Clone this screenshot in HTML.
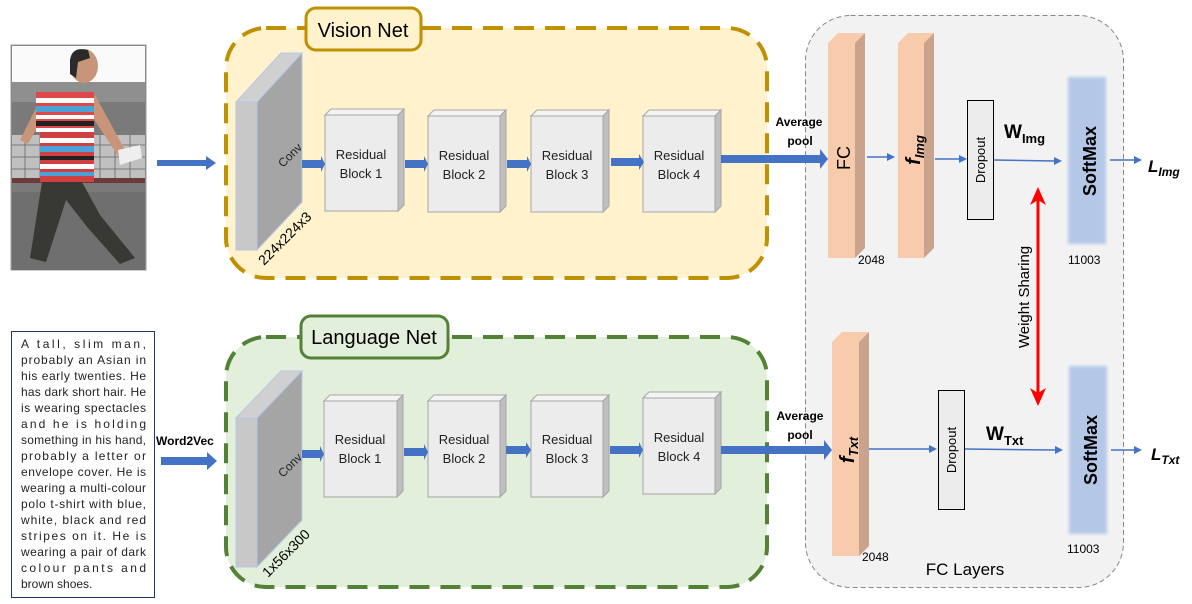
<!DOCTYPE html>
<html><head><meta charset="utf-8"><style>
html,body{margin:0;padding:0;background:#fff}
svg{display:block}
text{font-family:"Liberation Sans",sans-serif}
</style></head><body>
<svg width="1192" height="604" viewBox="0 0 1192 604" xmlns="http://www.w3.org/2000/svg">
<defs>
<filter id="blur"><feGaussianBlur stdDeviation="1.5"/></filter>
</defs>
<rect x="805.5" y="15.5" width="318" height="572" rx="45" fill="#f2f2f2" stroke="#888" stroke-dasharray="5,3"/>
<rect x="226" y="28" width="541" height="250" rx="40" fill="#fff2cc" stroke="#bf9000" stroke-width="4" stroke-dasharray="20,11"/>
<rect x="306" y="8" width="115" height="42" rx="10" fill="#fff2cc" stroke="#bf9000" stroke-width="3"/>
<text x="363" y="37" font-size="20" text-anchor="middle" fill="#000">Vision Net</text>
<rect x="226" y="337" width="541" height="250" rx="40" fill="#e2efda" stroke="#538135" stroke-width="4" stroke-dasharray="20,11"/>
<rect x="301" y="316" width="147" height="42" rx="10" fill="#e2efda" stroke="#538135" stroke-width="3"/>
<text x="374" y="344" font-size="20" text-anchor="middle" fill="#000">Language Net</text>

<!-- Photo -->
<g>
<rect x="11" y="45" width="135" height="225" fill="#7a7a7a" stroke="#999"/>
<rect x="12" y="46" width="133" height="36" fill="#fafafa"/>
<rect x="12" y="82" width="133" height="20" fill="#8f8f8f"/>
<rect x="12" y="135" width="133" height="45" fill="#c0c0c0"/>
<g stroke="#777" stroke-width="1">
<line x1="12" y1="145" x2="145" y2="145"/><line x1="12" y1="157" x2="145" y2="157"/><line x1="12" y1="169" x2="145" y2="169"/>
<line x1="25" y1="135" x2="25" y2="180"/><line x1="40" y1="135" x2="40" y2="180"/><line x1="100" y1="135" x2="100" y2="180"/><line x1="115" y1="135" x2="115" y2="180"/><line x1="130" y1="135" x2="130" y2="180"/>
</g>
<rect x="12" y="178" width="133" height="5" fill="#6b3a3a"/>
<rect x="12" y="192" width="133" height="78" fill="#6f6f6f"/>
<path d="M30 258 L42 182 L82 182 L100 215 L135 258 L120 264 L88 228 L66 200 L46 262 Z" fill="#383834"/>
<path d="M95 95 L125 150 L118 156 L88 110 Z" fill="#c9957a"/>
<path d="M40 100 L20 140 L28 144 L46 112 Z" fill="#c9957a"/>
<rect x="36" y="92" width="58" height="40" fill="#e04848"/>
<rect x="36" y="98" width="58" height="5" fill="#fff"/>
<rect x="36" y="106" width="58" height="6" fill="#4aa3d8"/>
<rect x="36" y="115" width="58" height="4" fill="#fff"/>
<rect x="36" y="121" width="58" height="5" fill="#222"/>
<rect x="36" y="128" width="58" height="4" fill="#fff"/>
<rect x="40" y="132" width="54" height="50" fill="#d04040"/>
<rect x="40" y="138" width="54" height="5" fill="#fff"/>
<rect x="40" y="146" width="54" height="6" fill="#4aa3d8"/>
<rect x="40" y="156" width="54" height="4" fill="#222"/>
<rect x="40" y="164" width="54" height="5" fill="#fff"/>
<rect x="40" y="172" width="54" height="4" fill="#4aa3d8"/>
<ellipse cx="84" cy="66" rx="14" ry="17" fill="#c9957a"/>
<path d="M70 60 Q72 46 88 50 L90 58 L78 62 L76 78 L70 74 Z" fill="#2a2a2a"/>
<path d="M118 150 L140 145 L142 158 L120 165 Z" fill="#eee"/>
</g>
<path d="M157 160 H206 V156 L216 163 L206 170 V166 H157 Z" fill="#4472c4"/>

<!-- Text box -->
<rect x="11.5" y="331.5" width="143" height="266" fill="#fff" stroke="#1f3864"/>
<g font-size="12" fill="#222">
<text x="21" y="348" textLength="125" lengthAdjust="spacing">A tall, slim man,</text>
<text x="21" y="364" textLength="125" lengthAdjust="spacing">probably an Asian in</text>
<text x="21" y="380" textLength="125" lengthAdjust="spacing">his early twenties. He</text>
<text x="21" y="396" textLength="125" lengthAdjust="spacing">has dark short hair. He</text>
<text x="21" y="412" textLength="125" lengthAdjust="spacing">is wearing spectacles</text>
<text x="21" y="428" textLength="125" lengthAdjust="spacing">and he is holding</text>
<text x="21" y="444" textLength="125" lengthAdjust="spacing">something in his hand,</text>
<text x="21" y="460" textLength="125" lengthAdjust="spacing">probably a letter or</text>
<text x="21" y="476" textLength="125" lengthAdjust="spacing">envelope cover. He is</text>
<text x="21" y="492" textLength="125" lengthAdjust="spacing">wearing a multi-colour</text>
<text x="21" y="508" textLength="125" lengthAdjust="spacing">polo t-shirt with blue,</text>
<text x="21" y="524" textLength="125" lengthAdjust="spacing">white, black and red</text>
<text x="21" y="540" textLength="125" lengthAdjust="spacing">stripes on it. He is</text>
<text x="21" y="556" textLength="125" lengthAdjust="spacing">wearing a pair of dark</text>
<text x="21" y="572" textLength="125" lengthAdjust="spacing">colour pants and</text>
<text x="21" y="588">brown shoes.</text>
</g>
<text x="156" y="445" font-size="12" font-weight="bold" fill="#000">Word2Vec</text>
<path d="M161 457 H207 V452 L217 461 L207 470 V465 H161 Z" fill="#4472c4"/>

<polygon points="236,102 281,53 302,53 257,102" fill="#d0d0d0" stroke="#b4c7e7"/>
<polygon points="257,102 302,53 302,202 257,250" fill="#a5a5a5" stroke="#b4c7e7"/>
<rect x="236" y="102" width="21" height="148" fill="#c8c8c8" stroke="#b4c7e7"/>
<text transform="translate(283,168) rotate(-45)" font-size="12" fill="#222">Conv</text>
<text transform="translate(264,266) rotate(-45)" font-size="14" fill="#000">224x224x3</text>

<polygon points="236,418 281,371 302,371 257,418" fill="#d0d0d0" stroke="#b4c7e7"/>
<polygon points="257,418 302,371 302,520 257,567" fill="#a5a5a5" stroke="#b4c7e7"/>
<rect x="236" y="418" width="21" height="149" fill="#c8c8c8" stroke="#b4c7e7"/>
<text transform="translate(283,478) rotate(-45)" font-size="12" fill="#222">Conv</text>
<text transform="translate(268,578) rotate(-45)" font-size="14" fill="#000">1x56x300</text>

<g stroke="#a6a6a6">
<polygon points="325,115 331,109 404,109 398,115" fill="#f4f4f4"/>
<polygon points="398,115 404,109 404,205 398,211" fill="#bfbfbf"/>
<rect x="325" y="115" width="73" height="96" fill="#ececec"/>
<polygon points="428,116 434,110 506,110 500,116" fill="#f4f4f4"/>
<polygon points="500,116 506,110 506,206 500,212" fill="#bfbfbf"/>
<rect x="428" y="116" width="72" height="96" fill="#ececec"/>
<polygon points="531,116 537,110 609,110 603,116" fill="#f4f4f4"/>
<polygon points="603,116 609,110 609,206 603,212" fill="#bfbfbf"/>
<rect x="531" y="116" width="72" height="96" fill="#ececec"/>
<polygon points="643,116 649,110 721,110 715,116" fill="#f4f4f4"/>
<polygon points="715,116 721,110 721,206 715,212" fill="#bfbfbf"/>
<rect x="643" y="116" width="72" height="96" fill="#ececec"/>
<polygon points="324,401 330,395 403,395 397,401" fill="#f4f4f4"/>
<polygon points="397,401 403,395 403,491 397,497" fill="#bfbfbf"/>
<rect x="324" y="401" width="73" height="96" fill="#ececec"/>
<polygon points="428,401 434,395 506,395 500,401" fill="#f4f4f4"/>
<polygon points="500,401 506,395 506,491 500,497" fill="#bfbfbf"/>
<rect x="428" y="401" width="72" height="96" fill="#ececec"/>
<polygon points="531,401 537,395 609,395 603,401" fill="#f4f4f4"/>
<polygon points="603,401 609,395 609,491 603,497" fill="#bfbfbf"/>
<rect x="531" y="401" width="72" height="96" fill="#ececec"/>
<polygon points="643,398 649,392 721,392 715,398" fill="#f4f4f4"/>
<polygon points="715,398 721,392 721,488 715,494" fill="#bfbfbf"/>
<rect x="643" y="398" width="72" height="96" fill="#ececec"/>
</g>
<g font-size="13" text-anchor="middle" fill="#222">
<text x="361" y="159">Residual</text><text x="361" y="178">Block 1</text>
<text x="464" y="160">Residual</text><text x="464" y="179">Block 2</text>
<text x="567" y="160">Residual</text><text x="567" y="179">Block 3</text>
<text x="679" y="160">Residual</text><text x="679" y="179">Block 4</text>
<text x="360" y="444">Residual</text><text x="360" y="463">Block 1</text>
<text x="464" y="444">Residual</text><text x="464" y="463">Block 2</text>
<text x="567" y="444">Residual</text><text x="567" y="463">Block 3</text>
<text x="679" y="442">Residual</text><text x="679" y="461">Block 4</text>
</g>
<g fill="#4472c4">
<path d="M302 160 H321 V156 L325 164 L321 172 V168 H302 Z"/>
<path d="M405 160 H424 V156 L428 164 L424 172 V168 H405 Z"/>
<path d="M507 160 H527 V156 L531 164 L527 172 V168 H507 Z"/>
<path d="M611 158 H639 V154 L644 162 L639 170 V166 H611 Z"/>
<path d="M721 155 H820 V149 L828 159 L820 169 V163 H721 Z"/>
<path d="M302 450 H320 V446 L324 454 L320 462 V458 H302 Z"/>
<path d="M404 448 H424 V444 L428 452 L424 460 V456 H404 Z"/>
<path d="M506 446 H526 V442 L531 450 L526 458 V454 H506 Z"/>
<path d="M610 446 H639 V442 L643 450 L639 458 V454 H610 Z"/>
<path d="M721 446 H824 V440 L832 450 L824 460 V454 H721 Z"/>
</g>
<g font-size="12" font-weight="bold" text-anchor="middle" fill="#000">
<text x="799" y="126">Average</text><text x="800" y="145">pool</text>
<text x="800" y="420">Average</text><text x="800" y="439">pool</text>
</g>

<g>
<polygon points="828,43 838,33 865,33 855,43" fill="#f8cbad"/>
<polygon points="855,43 865,33 865,248 855,258" fill="#c9a38b"/>
<rect x="828" y="43" width="27" height="215" fill="#f8cbad"/>
<polygon points="898,43 908,33 934,33 924,43" fill="#f8cbad"/>
<polygon points="924,43 934,33 934,248 924,258" fill="#c9a38b"/>
<rect x="898" y="43" width="26" height="215" fill="#f8cbad"/>
<polygon points="832,342 842,332 869,332 859,342" fill="#f8cbad"/>
<polygon points="859,342 869,332 869,546 859,556" fill="#c9a38b"/>
<rect x="832" y="342" width="27" height="214" fill="#f8cbad"/>
</g>
<text transform="translate(850,158) rotate(-90)" font-size="18" text-anchor="middle" fill="#000">FC</text>
<text transform="translate(920,150) rotate(-90)" font-size="20" font-weight="bold" font-style="italic" text-anchor="middle" fill="#000">f<tspan font-size="13" dy="4">Img</tspan></text>
<text transform="translate(854,450) rotate(-90)" font-size="20" font-weight="bold" font-style="italic" text-anchor="middle" fill="#000">f<tspan font-size="13" dy="4">Txt</tspan></text>
<g font-size="12" fill="#000">
<text x="858" y="264">2048</text><text x="862" y="561">2048</text>
<text x="1068" y="264">11003</text><text x="1067" y="553">11003</text>
</g>
<rect x="967.5" y="100.5" width="26" height="119" fill="#ececec" stroke="#000"/>
<text transform="translate(985,160) rotate(-90)" font-size="13" text-anchor="middle" fill="#000">Dropout</text>
<rect x="938.5" y="390.5" width="26" height="119" fill="#ececec" stroke="#000"/>
<text transform="translate(956,450) rotate(-90)" font-size="13" text-anchor="middle" fill="#000">Dropout</text>
<rect x="1068" y="77" width="38" height="167" fill="#b4c7e7" filter="url(#blur)"/>
<rect x="1069" y="366" width="38" height="168" fill="#b4c7e7" filter="url(#blur)"/>
<text transform="translate(1096,161) rotate(-90)" font-size="18" font-weight="bold" text-anchor="middle" fill="#000">SoftMax</text>
<text transform="translate(1097,450) rotate(-90)" font-size="18" font-weight="bold" text-anchor="middle" fill="#000">SoftMax</text>
<g stroke="#4472c4" stroke-width="1.5" fill="#4472c4">
<line x1="867" y1="157" x2="888" y2="157"/><polygon points="895,157 887,153 887,161" stroke="none"/>
<line x1="935" y1="159" x2="960" y2="159"/><polygon points="967,159 959,155 959,163" stroke="none"/>
<line x1="994" y1="160" x2="1054" y2="161"/><polygon points="1062,161 1054,157 1054,165" stroke="none"/>
<line x1="1110" y1="160" x2="1135" y2="160"/><polygon points="1142,160 1134,156 1134,164" stroke="none"/>
<line x1="869" y1="449" x2="930" y2="449"/><polygon points="937,449 929,445 929,453" stroke="none"/>
<line x1="965" y1="449" x2="1055" y2="450"/><polygon points="1063,450 1055,446 1055,454" stroke="none"/>
<line x1="1111" y1="450" x2="1135" y2="450"/><polygon points="1142,450 1134,446 1134,454" stroke="none"/>
</g>
<text x="1004" y="138" font-size="19" font-weight="bold" fill="#000">W<tspan font-size="13" dy="5">Img</tspan></text>
<text x="986" y="440" font-size="19" font-weight="bold" fill="#000">W<tspan font-size="13" dy="5">Txt</tspan></text>
<text x="1148" y="172" font-size="17" font-weight="bold" font-style="italic" fill="#000">L<tspan font-size="12" dy="4">Img</tspan></text>
<text x="1151" y="460" font-size="17" font-weight="bold" font-style="italic" fill="#000">L<tspan font-size="12" dy="4">Txt</tspan></text>
<line x1="1038" y1="200" x2="1038" y2="394" stroke="#ff0000" stroke-width="3"/>
<polygon points="1038,187 1030,205 1038,200 1046,205" fill="#ff0000"/>
<polygon points="1038,406 1030,388 1038,393 1046,388" fill="#ff0000"/>
<text transform="translate(1029,297) rotate(-90)" font-size="15" text-anchor="middle" fill="#000">Weight Sharing</text>
<text x="965" y="575" font-size="17" text-anchor="middle" fill="#000">FC Layers</text>
</svg>
</body></html>
